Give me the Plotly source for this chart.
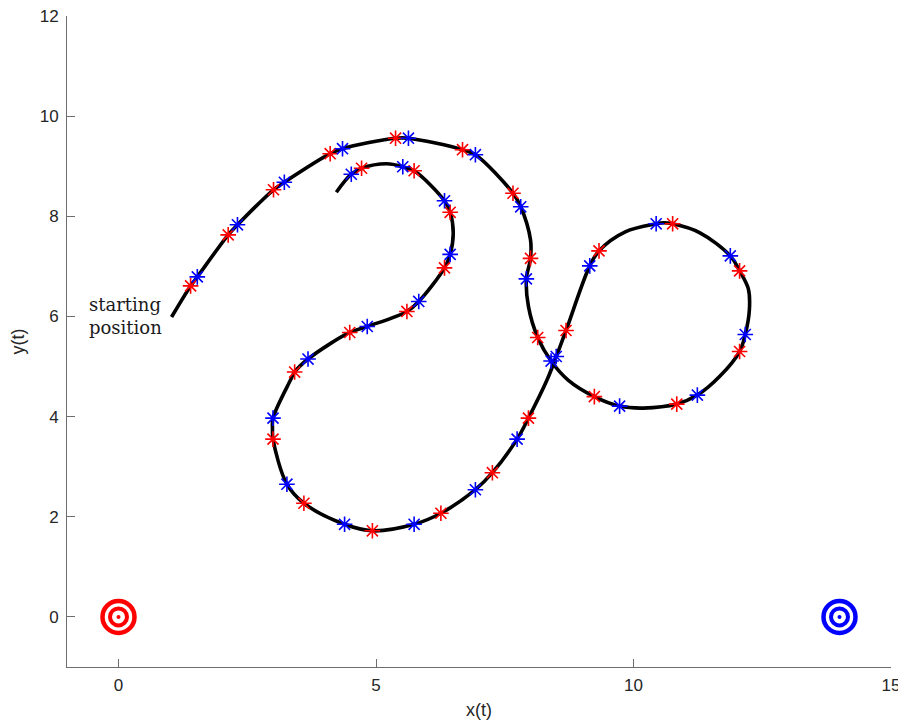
import plotly.graph_objects as go

# Trajectory (in data coordinates, in travel order)
path_x = [1.03, 1.40, 1.53, 2.13, 2.31, 3.01, 3.22, 4.11, 4.35, 5.38, 5.63, 6.68, 6.93, 7.66, 7.81,
          8.00, 8.00, 7.92, 7.96, 8.14, 8.40, 8.73, 9.24, 9.73, 10.19, 10.84, 11.24, 11.68, 12.06, 12.17,
          12.25, 12.23, 12.06, 11.88, 11.29, 10.76, 10.58, 10.44, 9.84, 9.33, 9.15, 8.69, 8.50, 8.32,
          7.96, 7.74, 7.26, 6.93, 6.26,
          5.74, 4.93, 4.39, 3.60, 3.27, 3.00, 2.99, 3.00, 3.34, 3.42, 3.68, 4.49, 4.83, 5.60, 5.83,
          6.33, 6.44, 6.50, 6.44, 6.33, 5.74, 5.52, 5.21, 4.72, 4.52, 4.23]
path_y = [5.99, 6.61, 6.79, 7.63, 7.83, 8.53, 8.68, 9.25, 9.35, 9.56, 9.56, 9.33, 9.23, 8.46, 8.19,
          7.53, 7.16, 6.75, 6.20, 5.58, 5.11, 4.73, 4.40, 4.21, 4.17, 4.25, 4.43, 4.81, 5.30, 5.64,
          6.13, 6.55, 6.91, 7.21, 7.67, 7.85, 7.87, 7.85, 7.69, 7.31, 7.01, 5.72, 5.20, 4.73,
          3.97, 3.55, 2.88, 2.54, 2.07,
          1.85, 1.72, 1.85, 2.27, 2.65, 3.55, 3.76, 3.97, 4.73, 4.89, 5.15, 5.68, 5.80, 6.10, 6.30,
          6.97, 7.24, 7.66, 8.08, 8.31, 8.91, 8.99, 9.05, 8.96, 8.84, 8.48]

# Red sample markers
red_x = [1.40, 2.13, 3.01, 4.11, 5.38, 6.68, 7.66, 8.00, 8.14, 9.24, 10.84, 12.06, 12.06, 10.76, 9.33,
         8.69, 7.96, 7.26, 6.26, 4.93, 3.60, 3.00, 3.42, 4.49, 5.60, 6.33, 6.44, 5.74, 4.72]
red_y = [6.61, 7.63, 8.53, 9.25, 9.56, 9.33, 8.46, 7.16, 5.58, 4.40, 4.25, 5.30, 6.91, 7.85, 7.31,
         5.72, 3.97, 2.88, 2.07, 1.72, 2.27, 3.55, 4.89, 5.68, 6.10, 6.97, 8.08, 8.91, 8.96]

# Blue sample markers
blue_x = [1.53, 2.31, 3.22, 4.35, 5.63, 6.93, 7.81, 7.92, 8.40, 9.73, 11.24, 12.17, 11.88, 10.44, 9.15,
          8.50, 7.74, 6.93, 5.74, 4.39, 3.27, 3.00, 3.68, 4.83, 5.83, 6.44, 6.33, 5.52, 4.52]
blue_y = [6.79, 7.83, 8.68, 9.35, 9.56, 9.23, 8.19, 6.75, 5.11, 4.21, 4.43, 5.64, 7.21, 7.85, 7.01,
          5.20, 3.55, 2.54, 1.85, 1.85, 2.65, 3.97, 5.15, 5.80, 6.30, 7.24, 8.31, 8.99, 8.84]

# Targets
targets_x = [0, 14]
targets_y = [0, 0]
target_colors = ["#ff0000", "#0000ff"]

x_ticks = [0, 5, 10, 15]
y_ticks = [0, 2, 4, 6, 8, 10, 12]

fig = go.Figure()

fig.add_trace(go.Scatter(x=path_x, y=path_y, mode="lines",
                         line=dict(color="black", width=3.6, shape="spline", smoothing=1.0),
                         hoverinfo="skip", showlegend=False))

fig.add_trace(go.Scatter(x=red_x, y=red_y, mode="markers",
                         marker=dict(symbol="asterisk-open", size=13, color="#ff0000",
                                     line=dict(color="#ff0000", width=1.6)),
                         showlegend=False))
fig.add_trace(go.Scatter(x=blue_x, y=blue_y, mode="markers",
                         marker=dict(symbol="asterisk-open", size=13, color="#0000ff",
                                     line=dict(color="#0000ff", width=1.6)),
                         showlegend=False))

for tx, ty, c in zip(targets_x, targets_y, target_colors):
    fig.add_trace(go.Scatter(x=[tx], y=[ty], mode="markers",
                             marker=dict(symbol="circle-open", size=32, color=c,
                                         line=dict(color=c, width=4.5)),
                             showlegend=False))
    fig.add_trace(go.Scatter(x=[tx], y=[ty], mode="markers",
                             marker=dict(symbol="circle-open", size=17, color=c,
                                         line=dict(color=c, width=4)),
                             showlegend=False))
    fig.add_trace(go.Scatter(x=[tx], y=[ty], mode="markers",
                             marker=dict(symbol="circle", size=4, color=c,
                                         line=dict(width=0)),
                             showlegend=False))

fig.add_annotation(x=-0.62, y=6.0, xref="x", yref="y", text="starting<br>position",
                   showarrow=False, xanchor="left", yanchor="middle", align="left",
                   font=dict(family="DejaVu Serif", size=18, color="#1a1a1a"))

axis_common = dict(showgrid=False, zeroline=False, showline=True, linecolor="#6e6e6e",
                   linewidth=1, ticks="inside", ticklen=8, tickcolor="#6e6e6e",
                   tickfont=dict(family="Liberation Sans", size=17, color="#262626"),
                   mirror=False, automargin=False, ticklabeloverflow="allow")

fig.update_xaxes(range=[-1, 15], tickvals=x_ticks, ticktext=[str(v) for v in x_ticks],
                 ticklabelstandoff=3,
                 title=dict(text="x(t)", font=dict(family="Liberation Sans", size=18, color="#262626"),
                            standoff=8), **axis_common)
fig.update_yaxes(range=[-1, 12], tickvals=y_ticks, ticktext=[str(v) for v in y_ticks],
                 ticklabelstandoff=4,
                 title=dict(text="y(t)", font=dict(family="Liberation Sans", size=18, color="#262626"),
                            standoff=14), **axis_common)

fig.update_layout(width=898, height=716, margin=dict(l=59, r=15, t=8, b=57),
                  plot_bgcolor="white", paper_bgcolor="white", showlegend=False)

fig.write_html("out.html")
